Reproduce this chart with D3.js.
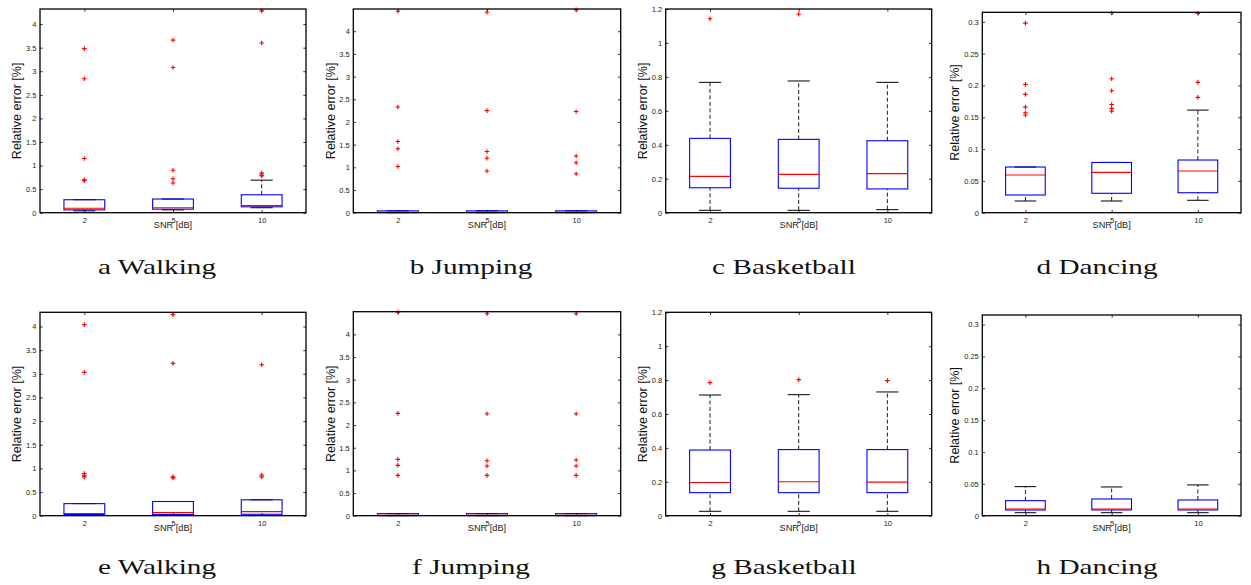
<!DOCTYPE html>
<html>
<head>
<meta charset="utf-8">
<script src="https://cdn.jsdelivr.net/npm/d3@7"></script>
<style>
  body { margin: 0; background: #fff; }
  svg { display: block; }
</style>
</head>
<body>
<svg id="fig" width="1251" height="585"></svg>
<script>
// SNR levels on the x axis
const snrLevels = ["2", "5", "10"];

// Sub-figure captions
const captions = ["a Walking", "b Jumping", "c Basketball", "d Dancing",
                  "e Walking", "f Jumping", "g Basketball", "h Dancing"];

// Y tick labels for each kind of panel
const ticksWide = [0, 0.5, 1, 1.5, 2, 2.5, 3, 3.5, 4];
const ticksBasketball = [0, 0.2, 0.4, 0.6, 0.8, 1, 1.2];
const ticksDancing = [0, 0.05, 0.1, 0.15, 0.2, 0.25, 0.3];

// Upper y limit of every panel
const yLimits = [4.32, 4.49, 1.2, 0.315, 4.3, 4.5, 1.2, 0.315];

// Box statistics per SNR level: [lower whisker, Q1, median, Q3, upper whisker]
const walkingTop = [[0.04, 0.06, 0.095, 0.275, 0.275],
                    [0.06, 0.075, 0.105, 0.29, 0.29],
                    [0.105, 0.125, 0.15, 0.38, 0.69]];
const walkingTopOutliers = [[3.48, 2.84, 1.15, 0.70, 0.68],
                            [3.66, 3.08, 0.90, 0.72, 0.63],
                            [4.28, 3.60, 0.84, 0.80, 0.78]];

const jumpingTop = [[0.0, 0.003, 0.01, 0.04, 0.04],
                    [0.0, 0.003, 0.01, 0.04, 0.04],
                    [0.0, 0.003, 0.01, 0.04, 0.04]];
const jumpingTopOutliers = [[4.44, 2.33, 1.57, 1.41, 1.02],
                            [4.42, 2.25, 1.35, 1.20, 0.92],
                            [4.47, 2.23, 1.25, 1.10, 0.86]];

const basketballTop = [[0.014, 0.147, 0.214, 0.438, 0.768],
                       [0.014, 0.144, 0.226, 0.432, 0.776],
                       [0.018, 0.140, 0.230, 0.424, 0.768]];
const basketballTopOutliers = [[1.143], [1.169], []];

const dancingTop = [[0.0184, 0.0278, 0.0592, 0.0718, 0.0718],
                    [0.0184, 0.0305, 0.0634, 0.0790, 0.0790],
                    [0.0195, 0.0314, 0.0655, 0.0828, 0.1613]];
const dancingTopOutliers = [[0.298, 0.2017, 0.186, 0.166, 0.157, 0.1535],
                            [0.314, 0.2105, 0.1917, 0.170, 0.164, 0.1597],
                            [0.313, 0.2048, 0.1812]];

const walkingBottom = [[0.005, 0.025, 0.045, 0.255, 0.255],
                       [0.005, 0.025, 0.065, 0.30, 0.30],
                       [0.005, 0.03, 0.086, 0.336, 0.336]];
const walkingBottomOutliers = [[4.04, 3.03, 0.89, 0.85, 0.82],
                               [4.25, 3.22, 0.82, 0.80],
                               [3.19, 0.86, 0.82]];

const jumpingBottom = [[0.0, 0.003, 0.01, 0.045, 0.045],
                       [0.0, 0.003, 0.01, 0.045, 0.045],
                       [0.0, 0.003, 0.01, 0.045, 0.045]];
const jumpingBottomOutliers = [[4.49, 2.257, 1.243, 1.11, 0.89],
                               [4.456, 2.25, 1.213, 1.096, 0.89],
                               [4.456, 2.25, 1.228, 1.096, 0.89]];

const basketballBottom = [[0.026, 0.136, 0.196, 0.3875, 0.712],
                          [0.026, 0.136, 0.200, 0.390, 0.714],
                          [0.026, 0.136, 0.198, 0.390, 0.730]];
const basketballBottomOutliers = [[0.785], [0.803], [0.797]];

const dancingBottom = [[0.0047, 0.0089, 0.0105, 0.0236, 0.0456],
                       [0.0047, 0.0090, 0.0105, 0.0262, 0.0451],
                       [0.0047, 0.0090, 0.0105, 0.0247, 0.0483]];
const dancingBottomOutliers = [[], [], []];

// Panel frames in pixels: [left, top, right, bottom]
const frames = [
  [40, 9, 306, 212.7], [353.3, 9, 620.7, 212.7], [665.7, 9, 931.7, 212.7], [982.3, 12.3, 1241, 212.7],
  [40, 312.3, 306, 515.7], [353.3, 311.7, 620.7, 515.7], [665.7, 312.3, 931.7, 515.7], [982.3, 315, 1241, 515.7]
];
const captionCenters = [157, 471, 784, 1097, 157, 471, 784, 1097];
const captionBaselines = [273.5, 273.5, 273.5, 273.5, 574, 574, 574, 574];

const panels = [
  { boxes: walkingTop, outliers: walkingTopOutliers, ticks: ticksWide },
  { boxes: jumpingTop, outliers: jumpingTopOutliers, ticks: ticksWide },
  { boxes: basketballTop, outliers: basketballTopOutliers, ticks: ticksBasketball },
  { boxes: dancingTop, outliers: dancingTopOutliers, ticks: ticksDancing },
  { boxes: walkingBottom, outliers: walkingBottomOutliers, ticks: ticksWide },
  { boxes: jumpingBottom, outliers: jumpingBottomOutliers, ticks: ticksWide },
  { boxes: basketballBottom, outliers: basketballBottomOutliers, ticks: ticksBasketball },
  { boxes: dancingBottom, outliers: dancingBottomOutliers, ticks: ticksDancing }
];

const svg = d3.select("#fig");
const tickFont = "Liberation Sans, Arial, sans-serif";
const fmt = d3.format("~g");

panels.forEach((p, i) => {
  const [x0, y0, x1, y1] = frames[i];
  const g = svg.append("g");

  const x = d3.scalePoint().domain(snrLevels).range([x0, x1]).padding(0.5);
  const y = d3.scaleLinear().domain([0, yLimits[i]]).range([y1, y0]);
  const step = x.step();
  const boxW = 0.46 * step;
  const capW = 0.25 * step;

  // axes with inward ticks on all four sides
  const left = g.append("g").attr("transform", `translate(${x0},0)`)
    .call(d3.axisLeft(y).tickValues(p.ticks).tickFormat(fmt)
      .tickSizeInner(-2.7).tickSizeOuter(0).tickPadding(3.5));
  const right = g.append("g").attr("transform", `translate(${x1},0)`)
    .call(d3.axisRight(y).tickValues(p.ticks).tickFormat("")
      .tickSizeInner(-2.7).tickSizeOuter(0));
  const bottom = g.append("g").attr("transform", `translate(0,${y1})`)
    .call(d3.axisBottom(x).tickSizeInner(-2.7).tickSizeOuter(0).tickPadding(4.8));
  const top = g.append("g").attr("transform", `translate(0,${y0})`)
    .call(d3.axisTop(x).tickFormat("").tickSizeInner(-2.7).tickSizeOuter(0));

  [left, right, bottom, top].forEach(a => {
    a.select(".domain").remove();
    a.selectAll(".tick line").attr("stroke", "#000").attr("stroke-width", 0.8);
    a.selectAll("text").attr("font-family", tickFont).attr("font-size", 7.5).attr("fill", "#222");
  });

  // boxes
  const bx = g.append("g").selectAll("g").data(p.boxes).join("g")
    .attr("transform", (d, j) => `translate(${x(snrLevels[j])},0)`);

  bx.append("line")
    .attr("x1", 0).attr("x2", 0)
    .attr("y1", d => y(d[3])).attr("y2", d => y(d[4]))
    .attr("stroke", "#000").attr("stroke-width", 0.9).attr("stroke-dasharray", "4,2.5");
  bx.append("line")
    .attr("x1", 0).attr("x2", 0)
    .attr("y1", d => y(d[0])).attr("y2", d => y(d[1]))
    .attr("stroke", "#000").attr("stroke-width", 0.9).attr("stroke-dasharray", "4,2.5");
  bx.append("line")
    .attr("x1", -capW / 2).attr("x2", capW / 2)
    .attr("y1", d => y(d[4])).attr("y2", d => y(d[4]))
    .attr("stroke", "#000").attr("stroke-width", 1);
  bx.append("line")
    .attr("x1", -capW / 2).attr("x2", capW / 2)
    .attr("y1", d => y(d[0])).attr("y2", d => y(d[0]))
    .attr("stroke", "#000").attr("stroke-width", 1);
  bx.append("rect")
    .attr("x", -boxW / 2).attr("width", boxW)
    .attr("y", d => y(d[3])).attr("height", d => y(d[1]) - y(d[3]))
    .attr("fill", "none").attr("stroke", "#0000ff").attr("stroke-width", 1.1);
  bx.append("line")
    .attr("x1", -boxW / 2).attr("x2", boxW / 2)
    .attr("y1", d => y(d[2])).attr("y2", d => y(d[2]))
    .attr("stroke", "#ff0000").attr("stroke-width", 1.1);

  // outliers as red plus signs
  const pts = [];
  p.outliers.forEach((vals, j) => vals.forEach(v => pts.push({ k: snrLevels[j], v })));
  g.append("g").selectAll("path").data(pts).join("path")
    .attr("transform", d => `translate(${x(d.k)},${y(d.v)})`)
    .attr("d", "M-2.3,0H2.3M0,-2.3V2.3")
    .attr("stroke", "#ff0000").attr("stroke-width", 1.1).attr("fill", "none");

  // frame
  g.append("rect").attr("x", x0).attr("y", y0)
    .attr("width", x1 - x0).attr("height", y1 - y0)
    .attr("fill", "none").attr("stroke", "#000").attr("stroke-width", 1.3);

  // axis titles
  const tickLeft = left.node().getBBox().x + x0;
  g.append("text")
    .attr("transform", `translate(${tickLeft - 9.2},${(y0 + y1) / 2}) rotate(-90)`)
    .attr("dy", "0.35em").attr("text-anchor", "middle")
    .attr("font-family", tickFont).attr("font-size", 12.5).attr("fill", "#111")
    .text("Relative error [%]");
  g.append("text")
    .attr("x", (x0 + x1) / 2).attr("y", y1 + 15.5).attr("text-anchor", "middle")
    .attr("font-family", tickFont).attr("font-size", 9.2).attr("fill", "#222")
    .text("SNR [dB]");

  // caption, set a little wide like the typeset original
  svg.append("text")
    .attr("transform", `translate(${captionCenters[i]},${captionBaselines[i]}) scale(1.33,1)`)
    .attr("text-anchor", "middle")
    .attr("font-family", "Liberation Serif, Times New Roman, serif").attr("font-size", 22)
    .attr("fill", "#111")
    .text(captions[i]);
});
</script>
</body>
</html>
